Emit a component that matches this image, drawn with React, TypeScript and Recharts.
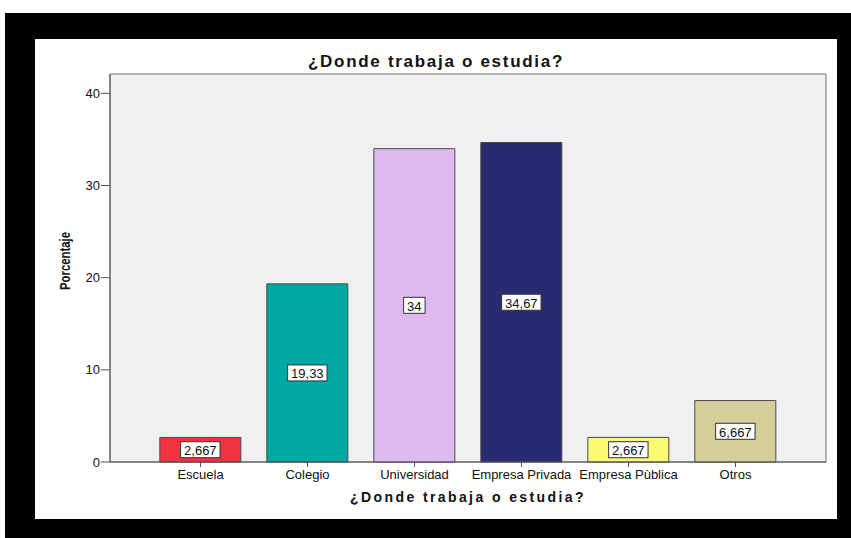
import { BarChart, Bar, XAxis, YAxis, CartesianGrid, LabelList, Label, Cell } from "recharts";

const categories = ["Escuela", "Colegio", "Universidad", "Empresa Privada", "Empresa Pùblica", "Otros"];
const percentages = [2.667, 19.33, 34, 34.67, 2.667, 6.667];
const valueLabels = ["2,667", "19,33", "34", "34,67", "2,667", "6,667"];
const barColors = ["#ef3340", "#00a8a3", "#dfb8f0", "#2a2a70", "#fbfa72", "#d4cf99"];
const yTicks = [0, 10, 20, 30, 40];

const title = "¿Donde trabaja o estudia?";

const data = categories.map((name, i) => ({
  name,
  value: percentages[i],
  label: valueLabels[i],
}));

const FONT = "'Liberation Sans', Arial, sans-serif";

// rough Arial widths at 13px, only used to size the white boxes
function textWidth(s: string) {
  let w = 0;
  for (const ch of s) w += ch === "," ? 3.6 : 7.2;
  return w;
}

function ValueBox(props: any) {
  const vb = props.viewBox ?? props;
  const { x, y, width, height } = vb;
  const value = String(props.value);
  const cx = x + width / 2;
  const cy = y + height / 2;
  const w = textWidth(value) + 7;
  const h = 16;
  return (
    <g>
      <rect x={cx - w / 2} y={cy - h / 2} width={w} height={h} fill="#fff" stroke="#333" strokeWidth={1} />
      <text x={cx} y={cy + 1} textAnchor="middle" dominantBaseline="central" fontSize={13} fontFamily={FONT} fill="#111">
        {value}
      </text>
    </g>
  );
}

export default function App() {
  return (
    <div style={{ position: "fixed", left: 0, top: 0, width: 851, height: 538, background: "#fff" }}>
      <div style={{ position: "absolute", left: 5, top: 13, width: 846, height: 525, background: "#000" }} />
      <div style={{ position: "absolute", left: 35, top: 39, width: 802, height: 480, background: "#fff" }} />
      <div
        style={{
          position: "absolute",
          left: 35,
          top: 53,
          width: 802,
          textAlign: "center",
          fontFamily: FONT,
          fontWeight: "bold",
          fontSize: 17,
          lineHeight: "17px",
          letterSpacing: 1.7,
          color: "#111",
        }}
      >
        {title}
      </div>
      <div style={{ position: "absolute", left: 0, top: 0 }}>
        <BarChart
          width={851}
          height={538}
          data={data}
          margin={{ top: 74, right: 25, bottom: 46, left: 70 }}
          barCategoryGap="12%"
        >
          <CartesianGrid
            fill="#f0f0f0"
            fillOpacity={1}
            stroke="#707070"
            horizontalCoordinatesGenerator={({ offset }: any) => [offset.top, offset.top + offset.height]}
            verticalCoordinatesGenerator={({ offset }: any) => [offset.left, offset.left + offset.width]}
          />
          <XAxis
            dataKey="name"
            height={30}
            padding={{ left: 37, right: 37 }}
            tickSize={5}
            tickMargin={3}
            interval={0}
            axisLine={{ stroke: "#555" }}
            tickLine={{ stroke: "#555" }}
            tick={{ fontSize: 13, fontFamily: FONT, fill: "#111" }}
          >
            <Label
              content={({ viewBox }: any) => (
                <text
                  x={viewBox.x + viewBox.width / 2}
                  y={viewBox.y + 40}
                  textAnchor="middle"
                  fontSize={14}
                  fontWeight="bold"
                  fontFamily={FONT}
                  letterSpacing={2.4}
                  fill="#111"
                >
                  {title}
                </text>
              )}
            />
          </XAxis>
          <YAxis
            width={40}
            domain={[0, 42.1]}
            ticks={yTicks}
            tickSize={9}
            tickMargin={1}
            axisLine={{ stroke: "#555" }}
            tickLine={{ stroke: "#555" }}
            tick={{ fontSize: 13, fontFamily: FONT, fill: "#111" }}
          >
            <Label
              content={() => (
                <text
                  x={65}
                  y={261}
                  transform="rotate(-90, 65, 261)"
                  textAnchor="middle"
                  dominantBaseline="central"
                  fontSize={14}
                  fontWeight="bold"
                  fontFamily="'Liberation Sans Narrow', 'Liberation Sans', Arial, sans-serif"
                  textLength={58}
                  lengthAdjust="spacingAndGlyphs"
                  fill="#111"
                >
                  Porcentaje
                </text>
              )}
            />
          </YAxis>
          <Bar dataKey="value" stroke="#4a4a4a" strokeWidth={1} isAnimationActive={false}>
            {data.map((d, i) => (
              <Cell key={d.name} fill={barColors[i]} />
            ))}
            <LabelList dataKey="label" content={ValueBox} />
          </Bar>
        </BarChart>
      </div>
    </div>
  );
}
